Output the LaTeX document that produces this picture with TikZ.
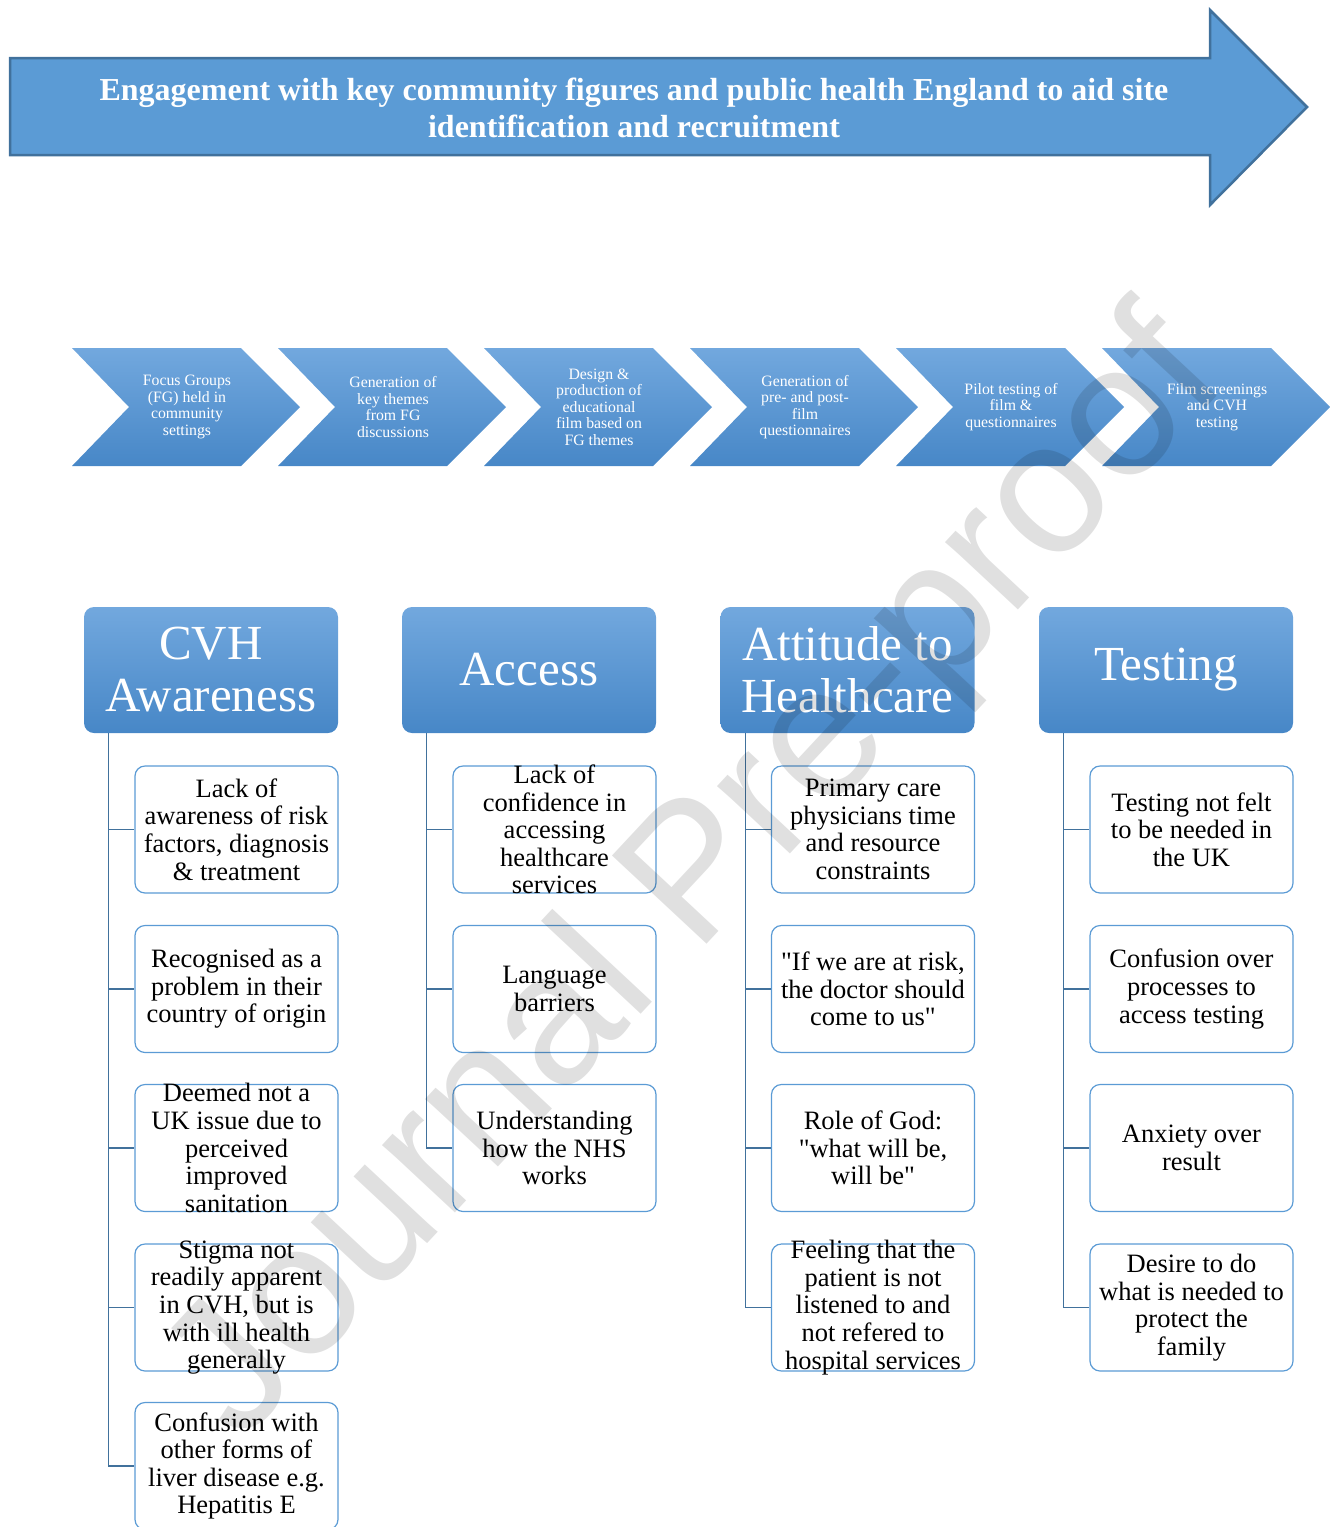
\documentclass[tikz,border=0pt]{standalone}
\usepackage{fontspec}
\setmainfont{Liberation Serif}
\newfontfamily\wmfont{Liberation Sans}
\definecolor{office}{HTML}{5B9BD5}
\definecolor{officedark}{HTML}{41719C}
\definecolor{shadetop}{HTML}{72A8DE}
\definecolor{shadebot}{HTML}{4787C7}
\newcommand\celltext[1]{\parbox[c][100pt][c]{203pt}{\centering #1}}
\begin{document}
\begin{tikzpicture}[x=1pt,y=-1pt,
		banner/.style={draw=officedark,line width=2.5pt,fill=office},
		stepfill/.style={top color=shadetop,bottom color=shadebot},
		steptext/.style={text=white,align=center,font=\fontsize{15.8}{16.5}\selectfont},
		theme/.style={rounded corners=10pt,top color=shadetop,bottom color=shadebot,
			minimum width=254pt,minimum height=126pt,text=white,align=center,
			font=\fontsize{49}{52}\selectfont},
		item/.style={draw=office,line width=1.2pt,rounded corners=10pt,fill=white,
			minimum width=203pt,minimum height=127pt,inner sep=0pt,
			font=\fontsize{26.5}{27.6}\selectfont},
		branch/.style={draw=officedark,line width=1.3pt}]
		\useasboundingbox (0,0) rectangle (1330,1527);
		% engagement arrow
		\draw[banner] (10,58) -- (1210,58) -- (1210,10) -- (1307,107)
			-- (1210,205) -- (1210,155) -- (10,155) -- cycle;
		\node[text=white,align=center,font=\bfseries\fontsize{32}{37}\selectfont] (engage) at (634,108)
			{Engagement with key community figures and public health England to aid site\\identification and recruitment};
		% process chevrons
		\shade[stepfill] (72,348) -- ++(169,0) -- ++(59,59) -- ++(-59,59) -- ++(-169,0) -- ++(57,-59) -- cycle;
		\shade[stepfill] (278,348) -- ++(169,0) -- ++(59,59) -- ++(-59,59) -- ++(-169,0) -- ++(57,-59) -- cycle;
		\shade[stepfill] (484,348) -- ++(169,0) -- ++(59,59) -- ++(-59,59) -- ++(-169,0) -- ++(57,-59) -- cycle;
		\shade[stepfill] (690,348) -- ++(169,0) -- ++(59,59) -- ++(-59,59) -- ++(-169,0) -- ++(57,-59) -- cycle;
		\shade[stepfill] (896,348) -- ++(169,0) -- ++(59,59) -- ++(-59,59) -- ++(-169,0) -- ++(57,-59) -- cycle;
		\shade[stepfill] (1102,348) -- ++(169,0) -- ++(59,59) -- ++(-59,59) -- ++(-169,0) -- ++(57,-59) -- cycle;
		\node[steptext] (focus) at (187,407) {Focus Groups\\(FG) held in\\community\\settings};
		\node[steptext] (themes) at (393,407) {Generation of\\key themes\\from FG\\discussions};
		\node[steptext] (film) at (599,407) {Design \&\\production of\\educational\\film based on\\FG themes};
		\node[steptext] (quest) at (805,407) {Generation of\\pre- and post-\\film\\questionnaires};
		\node[steptext] (pilot) at (1011,407) {Pilot testing of\\film \&\\questionnaires};
		\node[steptext] (screen) at (1217,407) {Film screenings\\and CVH\\testing};
		% theme headers
		\node[theme] (cvh) at (211,670) {CVH\\Awareness};
		\node[theme] (access) at (529,670) {Access};
		\node[theme] (attitude) at (847.5,670) {Attitude to\\Healthcare};
		\node[theme] (testing) at (1166,670) {Testing};
		% CVH awareness
		\node[item] (cvh1) at (236.5,829.5) {\celltext{Lack of\\awareness of risk\\factors, diagnosis\\\& treatment}};
		\node[item] (cvh2) at (236.5,989) {\celltext{Recognised as a\\problem in their\\country of origin}};
		\node[item] (cvh3) at (236.5,1148) {\celltext{Deemed not a\\UK issue due to\\perceived\\improved\\sanitation}};
		\node[item] (cvh4) at (236.5,1307.5) {\celltext{Stigma not\\readily apparent\\in CVH, but is\\with ill health\\generally}};
		\node[item] (cvh5) at (236.5,1466) {\celltext{Confusion with\\other forms of\\liver disease e.g.\\Hepatitis E}};
		\draw[branch] ([xshift=25pt]cvh.south west) |- (cvh1.west);
		\draw[branch] ([xshift=25pt]cvh.south west) |- (cvh2.west);
		\draw[branch] ([xshift=25pt]cvh.south west) |- (cvh3.west);
		\draw[branch] ([xshift=25pt]cvh.south west) |- (cvh4.west);
		\draw[branch] ([xshift=25pt]cvh.south west) |- (cvh5.west);
		% access
		\node[item] (acc1) at (554.5,829.5) {\celltext{Lack of\\confidence in\\accessing\\healthcare\\services}};
		\node[item] (acc2) at (554.5,989) {\celltext{Language\\barriers}};
		\node[item] (acc3) at (554.5,1148) {\celltext{Understanding\\how the NHS\\works}};
		\draw[branch] ([xshift=25pt]access.south west) |- (acc1.west);
		\draw[branch] ([xshift=25pt]access.south west) |- (acc2.west);
		\draw[branch] ([xshift=25pt]access.south west) |- (acc3.west);
		% attitude to healthcare
		\node[item] (att1) at (873,829.5) {\celltext{Primary care\\physicians time\\and resource\\constraints}};
		\node[item] (att2) at (873,989) {\celltext{\textquotedbl If we are at risk,\\the doctor should\\come to us\textquotedbl}};
		\node[item] (att3) at (873,1148) {\celltext{Role of God:\\\textquotedbl what will be,\\will be\textquotedbl}};
		\node[item] (att4) at (873,1307.5) {\celltext{Feeling that the\\patient is not\\listened to and\\not refered to\\hospital services}};
		\draw[branch] ([xshift=25pt]attitude.south west) |- (att1.west);
		\draw[branch] ([xshift=25pt]attitude.south west) |- (att2.west);
		\draw[branch] ([xshift=25pt]attitude.south west) |- (att3.west);
		\draw[branch] ([xshift=25pt]attitude.south west) |- (att4.west);
		% testing
		\node[item] (tst1) at (1191.5,829.5) {\celltext{Testing not felt\\to be needed in\\the UK}};
		\node[item] (tst2) at (1191.5,989) {\celltext{Confusion over\\processes to\\access testing}};
		\node[item] (tst3) at (1191.5,1148) {\celltext{Anxiety over\\result}};
		\node[item] (tst4) at (1191.5,1307.5) {\celltext{Desire to do\\what is needed to\\protect the\\family}};
		\draw[branch] ([xshift=25pt]testing.south west) |- (tst1.west);
		\draw[branch] ([xshift=25pt]testing.south west) |- (tst2.west);
		\draw[branch] ([xshift=25pt]testing.south west) |- (tst3.west);
		\draw[branch] ([xshift=25pt]testing.south west) |- (tst4.west);
		% watermark
		\node[rotate=47,text=black,text opacity=0.12,font=\wmfont\fontsize{188}{188}\selectfont] (mark)
			at (700,880) {Journal Pre-proof};
\end{tikzpicture}
\end{document}
